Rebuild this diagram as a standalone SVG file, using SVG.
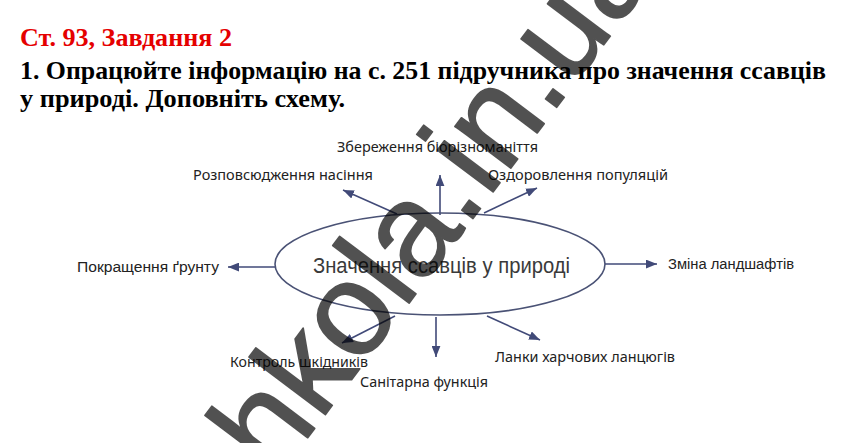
<svg xmlns="http://www.w3.org/2000/svg" width="852" height="443" viewBox="0 0 852 443">
<style>
.hd{font-family:"Liberation Serif","Times New Roman",serif;font-weight:bold;font-size:25px;fill:#000}
.red{fill:#e50000}
.lb{font-family:"Noto Sans","Open Sans",sans-serif;font-size:14px;fill:#222}
.ln{font-family:"Liberation Sans",Arial,sans-serif;font-size:14px;fill:#222}
.ct{font-family:"Liberation Sans",Arial,sans-serif;font-size:22px;fill:#3a3a3a}
.ar{stroke:#414a78;stroke-width:1.6;fill:none;marker-end:url(#ah)}
.wm{font-family:"Liberation Sans",Arial,sans-serif;font-size:132px;fill:#000;stroke:#000;stroke-width:1.6;stroke-linejoin:round}
</style>
<defs>
<marker id="ah" viewBox="0 0 10 8" refX="10" refY="4" markerWidth="11" markerHeight="9" markerUnits="userSpaceOnUse" orient="auto">
<path d="M0,0 L10,4 L0,8 z" fill="#414a78"/>
</marker>
</defs>
<rect width="852" height="443" fill="#fff"/>
<g id="heading">
<text class="hd red" x="20" y="46" textLength="212" lengthAdjust="spacingAndGlyphs">Ст. 93, Завдання 2</text>
<text class="hd" x="20" y="79" textLength="806" lengthAdjust="spacingAndGlyphs">1. Опрацюйте інформацію на с. 251 підручника про значення ссавців</text>
<text class="hd" x="20" y="107" textLength="325" lengthAdjust="spacingAndGlyphs">у природі. Доповніть схему.</text>
</g>
<g id="connectors">
<line class="ar" x1="440" y1="215" x2="440" y2="175"/>
<line class="ar" x1="397" y1="214" x2="343" y2="190"/>
<line class="ar" x1="484" y1="213" x2="537" y2="188"/>
<line class="ar" x1="275" y1="267" x2="228" y2="267"/>
<line class="ar" x1="605" y1="264" x2="657" y2="264"/>
<line class="ar" x1="395" y1="316" x2="342" y2="343"/>
<line class="ar" x1="436" y1="317" x2="436" y2="357"/>
<line class="ar" x1="487" y1="316" x2="540" y2="340"/>
</g>
<g id="center">
<ellipse cx="440" cy="264" rx="165" ry="51" fill="none" stroke="#4a5275" stroke-width="1.6"/>
<text class="ct" x="313" y="273" textLength="257" lengthAdjust="spacingAndGlyphs">Значення ссавців у природі</text>
</g>
<g id="n-biodiversity"><text class="lb" x="337" y="152" textLength="201" lengthAdjust="spacingAndGlyphs">Збереження біорізноманіття</text></g>
<g id="n-seeds"><text class="lb" x="193" y="180" textLength="180" lengthAdjust="spacingAndGlyphs">Розповсюдження насіння</text></g>
<g id="n-populations"><text class="lb" x="488" y="180" textLength="180" lengthAdjust="spacingAndGlyphs">Оздоровлення популяцій</text></g>
<g id="n-soil"><text class="ln" x="77" y="272" textLength="142" lengthAdjust="spacingAndGlyphs">Покращення ґрунту</text></g>
<g id="n-landscape"><text class="ln" x="668" y="269" textLength="126" lengthAdjust="spacingAndGlyphs">Зміна ландшафтів</text></g>
<g id="n-pests"><text class="lb" x="230" y="367" textLength="138" lengthAdjust="spacingAndGlyphs">Контроль шкідників</text></g>
<g id="n-sanitary"><text class="lb" x="360" y="387" textLength="128" lengthAdjust="spacingAndGlyphs">Санітарна функція</text></g>
<g id="n-foodchains"><text class="lb" x="495" y="362" textLength="180" lengthAdjust="spacingAndGlyphs">Ланки харчових ланцюгів</text></g>
<g id="watermark" opacity="0.68">
<text class="wm" transform="translate(236,533) rotate(-53)">shkola.in.ua</text>
</g>
</svg>
